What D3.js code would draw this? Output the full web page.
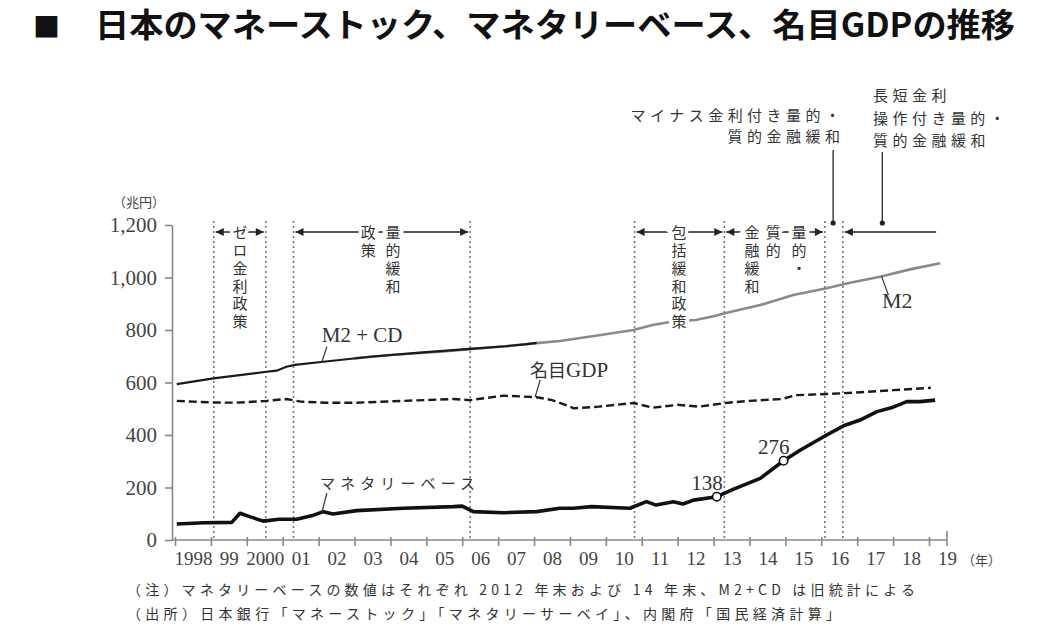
<!DOCTYPE html>
<html lang="ja">
<head>
<meta charset="utf-8">
<title>日本のマネーストック、マネタリーベース、名目GDPの推移</title>
<script src="https://cdn.jsdelivr.net/npm/d3@7"></script>
<style>
  html, body { margin: 0; padding: 0; background: #fff; }
  #chart { width: 1052px; height: 636px; }
</style>
</head>
<body>
<div id="chart"></div>
<script>
// 年ラベル(目盛りは年の区切り、ラベルは年の中央)
const xTickLabels = ['1998', '99', '2000', '01', '02', '03', '04', '05', '06', '07', '08',
  '09', '10', '11', '12', '13', '14', '15', '16', '17', '18', '19'];
const yTicks = [0, 200, 400, 600, 800, 1000, 1200];

// 系列 [年, 兆円] — 図から読み取り
const m2cd = [[1998.05, 594], [1999.07, 616], [2000.55, 641], [2000.83, 645], [2001.1, 660],
  [2001.34, 667], [2002.13, 679], [2003.43, 698], [2004.82, 714], [2006.22, 728],
  [2007.2, 738], [2007.8, 746], [2008.07, 751]];
const m2 = [[2003.0, 692], [2004.0, 705], [2005.38, 717], [2006.22, 727], [2007.2, 738],
  [2008.07, 750], [2008.72, 758], [2009.1, 766], [2009.9, 782], [2010.77, 800],
  [2011.3, 819], [2011.9, 833], [2012.5, 838], [2013.0, 852], [2013.37, 866],
  [2014.3, 895], [2015.22, 933], [2016.15, 959], [2016.8, 980], [2017.64, 1003],
  [2018.47, 1031], [2019.31, 1054]];
const gdp = [[1998.05, 530], [1998.5, 527], [1999.07, 524], [1999.7, 523], [2000.55, 530],
  [2001.1, 537], [2001.5, 527], [2002.2, 523], [2003.06, 523], [2004.36, 530],
  [2005.75, 537], [2006.22, 533], [2007.15, 550], [2008.07, 544], [2008.5, 533],
  [2009.0, 508], [2009.1, 502], [2009.8, 508], [2010.77, 522], [2011.3, 504],
  [2012.0, 515], [2012.6, 508], [2013.4, 523], [2014.0, 530], [2014.9, 537],
  [2015.3, 552], [2016.15, 556], [2017.1, 563], [2018.0, 571], [2019.05, 580]];
const monetaryBase = [[1998.05, 61], [1998.8, 66], [1999.58, 67], [1999.81, 102], [2000.1, 88],
  [2000.46, 72], [2000.9, 79], [2001.39, 79], [2001.8, 92], [2002.13, 108], [2002.4, 99],
  [2003.06, 112], [2004.36, 121], [2005.75, 127], [2006.0, 129], [2006.31, 108],
  [2007.15, 104], [2008.07, 108], [2008.72, 121], [2009.1, 121], [2009.6, 127],
  [2010.67, 121], [2011.13, 146], [2011.4, 133], [2011.88, 146], [2012.15, 137],
  [2012.44, 152], [2013.09, 165], [2013.56, 194], [2014.3, 235], [2014.95, 302],
  [2015.42, 343], [2016.15, 400], [2016.62, 435], [2017.08, 457], [2017.55, 489],
  [2018.0, 506], [2018.38, 527], [2018.75, 527], [2019.17, 533]];

// 2012年末・14年末のマネタリーベース
const markedPoints = [{ t: 2013.09, label: '138' }, { t: 2014.95, label: '276' }];

// 政策の区切り(点線)
const policyDates = [1999.08, 2000.53, 2001.3, 2006.22, 2010.8, 2013.3, 2016.1, 2016.6];

const width = 1052, height = 636;
const jp = "'Noto Sans CJK JP', sans-serif";
const serif = "'Liberation Serif', 'DejaVu Serif', serif";

const svg = d3.select('#chart').append('svg')
  .attr('width', width).attr('height', height)
  .attr('font-family', jp)
  .style('background', '#fff');

const x = d3.scaleLinear().domain([1998, 2019]).range([175, 929]);
const y = d3.scaleLinear().domain([0, 1200]).range([540, 225]);

// 線形補間で系列上の位置を得る(注記の位置合わせ用)
function valueAt(series, t) {
  const i = d3.bisector(d => d[0]).left(series, t);
  if (i <= 0) return series[0][1];
  if (i >= series.length) return series[series.length - 1][1];
  const a = series[i - 1], b = series[i];
  return a[1] + (b[1] - a[1]) * (t - a[0]) / (b[0] - a[0]);
}

// タイトル
svg.append('text').attr('x', 33).attr('y', 37)
  .attr('font-size', 27).attr('font-weight', 700).attr('fill', '#111').text('■');
svg.append('text').attr('x', 95).attr('y', 37)
  .attr('font-size', 33).attr('font-weight', 700).attr('fill', '#111')
  .attr('textLength', 920).attr('lengthAdjust', 'spacingAndGlyphs')
  .text('日本のマネーストック、マネタリーベース、名目GDPの推移');

// 単位
svg.append('text').attr('x', 113).attr('y', 207)
  .attr('font-size', 13).attr('fill', '#444').text('（兆円）');

// y軸
const yAxis = svg.append('g').attr('transform', 'translate(172,0)')
  .call(d3.axisLeft(y).tickValues(yTicks).tickSize(7).tickSizeOuter(0).tickPadding(8)
    .tickFormat(d3.format(',')));
yAxis.attr('font-family', serif);
yAxis.select('.domain').attr('stroke', '#888').attr('stroke-width', 1.6);
yAxis.selectAll('.tick line').attr('stroke', '#888').attr('stroke-width', 1.6);
yAxis.selectAll('.tick text').attr('font-size', 21).attr('fill', '#444');

// x軸
const xEnd = x(2019.5);
svg.append('line').attr('x1', 172).attr('x2', xEnd).attr('y1', y(0)).attr('y2', y(0))
  .attr('stroke', '#888').attr('stroke-width', 1.6);
const xTicks = svg.append('g').attr('transform', `translate(0,${y(0) - 3})`)
  .call(d3.axisBottom(x).tickValues(d3.range(1998, 2020)).tickSize(9).tickFormat(''));
xTicks.select('.domain').remove();
xTicks.selectAll('.tick line').attr('stroke', '#888').attr('stroke-width', 1.6);
svg.append('line').attr('x1', xEnd).attr('x2', xEnd).attr('y1', y(0) - 9).attr('y2', y(0) + 6)
  .attr('stroke', '#888').attr('stroke-width', 1.6);

const xLabels = svg.append('g').attr('transform', `translate(0,${y(0)})`)
  .call(d3.axisBottom(x).tickValues(d3.range(1998, 2020).map(v => v + 0.5))
    .tickSize(0).tickPadding(12).tickFormat((d, i) => xTickLabels[i]));
xLabels.attr('font-family', serif);
xLabels.select('.domain').remove();
xLabels.selectAll('.tick text').attr('font-size', 19).attr('fill', '#444');
svg.append('text').attr('x', 962).attr('y', 565)
  .attr('font-size', 13).attr('fill', '#444').text('（年）');

// 政策区切りの点線
const arrowY = y(1200) + 7;
svg.append('g').selectAll('line').data(policyDates).join('line')
  .attr('x1', d => x(d)).attr('x2', d => x(d))
  .attr('y1', y(1200) - 4).attr('y2', y(0))
  .attr('stroke', '#777').attr('stroke-width', 1.6).attr('stroke-dasharray', '2,3');

// 系列の線
const line = d3.line().x(d => x(d[0])).y(d => y(d[1]));
svg.append('path').datum(m2).attr('d', line)
  .attr('fill', 'none').attr('stroke', '#8a8a8a').attr('stroke-width', 2.6);
svg.append('path').datum(m2cd).attr('d', line)
  .attr('fill', 'none').attr('stroke', '#1a1a1a').attr('stroke-width', 2.2);
svg.append('path').datum(gdp).attr('d', line)
  .attr('fill', 'none').attr('stroke', '#1a1a1a').attr('stroke-width', 2.4)
  .attr('stroke-dasharray', '8,4');
svg.append('path').datum(monetaryBase).attr('d', line)
  .attr('fill', 'none').attr('stroke', '#111').attr('stroke-width', 3.6)
  .attr('stroke-linejoin', 'round');

// 138 / 276 の点
markedPoints.forEach(p => {
  const px = x(p.t), py = y(valueAt(monetaryBase, p.t));
  svg.append('circle').attr('cx', px).attr('cy', py).attr('r', 4.2)
    .attr('fill', '#fff').attr('stroke', '#111').attr('stroke-width', 1.6);
  svg.append('text').attr('x', px + 6).attr('y', py - 6.5)
    .attr('text-anchor', 'end').attr('font-family', serif).attr('font-size', 21)
    .attr('fill', '#333').text(p.label);
});

// 系列名と引き出し線
const seriesLabels = [
  { text: 'M2 + CD', t: 2002.09, v: 754, font: serif, size: 21,
    lead: [[2002.23, 736], [2002.09, valueAt(m2cd, 2002.09)]] },
  { text: 'M2', t: 2017.69, v: 884, font: serif, size: 22,
    lead: [[2017.68, valueAt(m2, 2017.68)], [2017.87, 933]] },
  { text: 'マネタリーベース', t: 2002.04, v: 194, len: 155, size: 15,
    lead: [[2002.23, 178], [2002.09, valueAt(monetaryBase, 2002.09)]] }
];
seriesLabels.forEach(l => {
  const t = svg.append('text').attr('x', x(l.t)).attr('y', y(l.v))
    .attr('font-size', l.size).attr('fill', '#333').text(l.text);
  if (l.font) t.attr('font-family', l.font);
  if (l.len) t.attr('textLength', l.len).attr('lengthAdjust', 'spacing');
  svg.append('path').datum(l.lead).attr('d', line)
    .attr('stroke', '#333').attr('stroke-width', 1.2).attr('fill', 'none');
});
const gdpLabel = svg.append('text').attr('x', x(2007.89)).attr('y', y(621))
  .attr('font-size', 18).attr('fill', '#333');
gdpLabel.append('tspan').text('名目');
gdpLabel.append('tspan').attr('font-family', serif).attr('font-size', 21).text('GDP');
svg.append('path').datum([[2008.17, 610], [2008.03, valueAt(gdp, 2008.03)]]).attr('d', line)
  .attr('stroke', '#333').attr('stroke-width', 1.2).attr('fill', 'none');

// 矢印
const defs = svg.append('defs');
defs.append('marker').attr('id', 'arrow')
  .attr('viewBox', '0 0 10 10').attr('refX', 10).attr('refY', 5)
  .attr('markerWidth', 10).attr('markerHeight', 8).attr('markerUnits', 'userSpaceOnUse')
  .attr('orient', 'auto-start-reverse')
  .append('path').attr('d', 'M0,0L10,5L0,10z').attr('fill', '#222');

const policyArrows = [
  { from: 1999.08, to: 2000.53, end: true },
  { from: 2001.3, to: 2006.22, end: true },
  { from: 2010.8, to: 2013.3, end: true },
  { from: 2013.3, to: 2016.1, end: true },
  { from: 2016.6, to: 2019.2, end: false }
];
policyArrows.forEach(a => {
  const l = svg.append('line')
    .attr('x1', x(a.from) + 2).attr('x2', a.end ? x(a.to) - 2 : x(a.to))
    .attr('y1', arrowY).attr('y2', arrowY)
    .attr('stroke', '#222').attr('stroke-width', 1.6)
    .attr('marker-start', 'url(#arrow)');
  if (a.end) l.attr('marker-end', 'url(#arrow)');
});

// 縦書きの政策名
const policyColumns = [
  { t: 1999.81, s: 'ゼロ金利政策' },
  { t: 2004.07, s: '量的緩和' }, { t: 2003.38, s: '政策' },
  { t: 2012.04, s: '包括緩和政策' },
  { t: 2015.38, s: '量的・' }, { t: 2014.66, s: '質的' }, { t: 2014.07, s: '金融緩和' }
];
policyColumns.forEach(c => {
  svg.append('text').attr('x', x(c.t)).attr('y', arrowY - 7)
    .style('writing-mode', 'vertical-rl')
    .style('letter-spacing', '2.8px')
    .attr('font-size', 15).attr('fill', '#333')
    .attr('stroke', '#fff').attr('stroke-width', 7).attr('paint-order', 'stroke')
    .text(c.s);
});

// マイナス金利・長短金利操作の注記
const pointers = [{ t: 2016.33, top: 150 }, { t: 2017.7, top: 152 }];
pointers.forEach(p => {
  svg.append('line').attr('x1', x(p.t)).attr('x2', x(p.t))
    .attr('y1', p.top).attr('y2', arrowY - 9)
    .attr('stroke', '#333').attr('stroke-width', 1.4);
  svg.append('circle').attr('cx', x(p.t)).attr('cy', arrowY - 9).attr('r', 2.6).attr('fill', '#222');
});
const topNotes = [
  { s: 'マイナス金利付き量的・', right: 840, y: 121 },
  { s: '質的金融緩和', right: 840, y: 142 },
  { s: '長短金利', left: 873, y: 101 },
  { s: '操作付き量的・', left: 873, y: 124 },
  { s: '質的金融緩和', left: 873, y: 146 }
];
topNotes.forEach(n => {
  const len = n.s.length * 19.4 - 4;
  svg.append('text')
    .attr('x', n.left !== undefined ? n.left : n.right - len)
    .attr('y', n.y).attr('font-size', 15).attr('fill', '#333')
    .attr('textLength', len).attr('lengthAdjust', 'spacing').text(n.s);
});

// 注記・出所
svg.append('text').attr('x', 127).attr('y', 595)
  .attr('font-size', 14).attr('fill', '#333')
  .attr('textLength', 788).attr('lengthAdjust', 'spacing')
  .text('（注）マネタリーベースの数値はそれぞれ 2012 年末および 14 年末、M2+CD は旧統計による');
svg.append('text').attr('x', 127).attr('y', 619)
  .attr('font-size', 14).attr('fill', '#333')
  .attr('textLength', 713).attr('lengthAdjust', 'spacing')
  .text('（出所）日本銀行「マネーストック」「マネタリーサーベイ」、内閣府「国民経済計算」');
</script>
</body>
</html>
